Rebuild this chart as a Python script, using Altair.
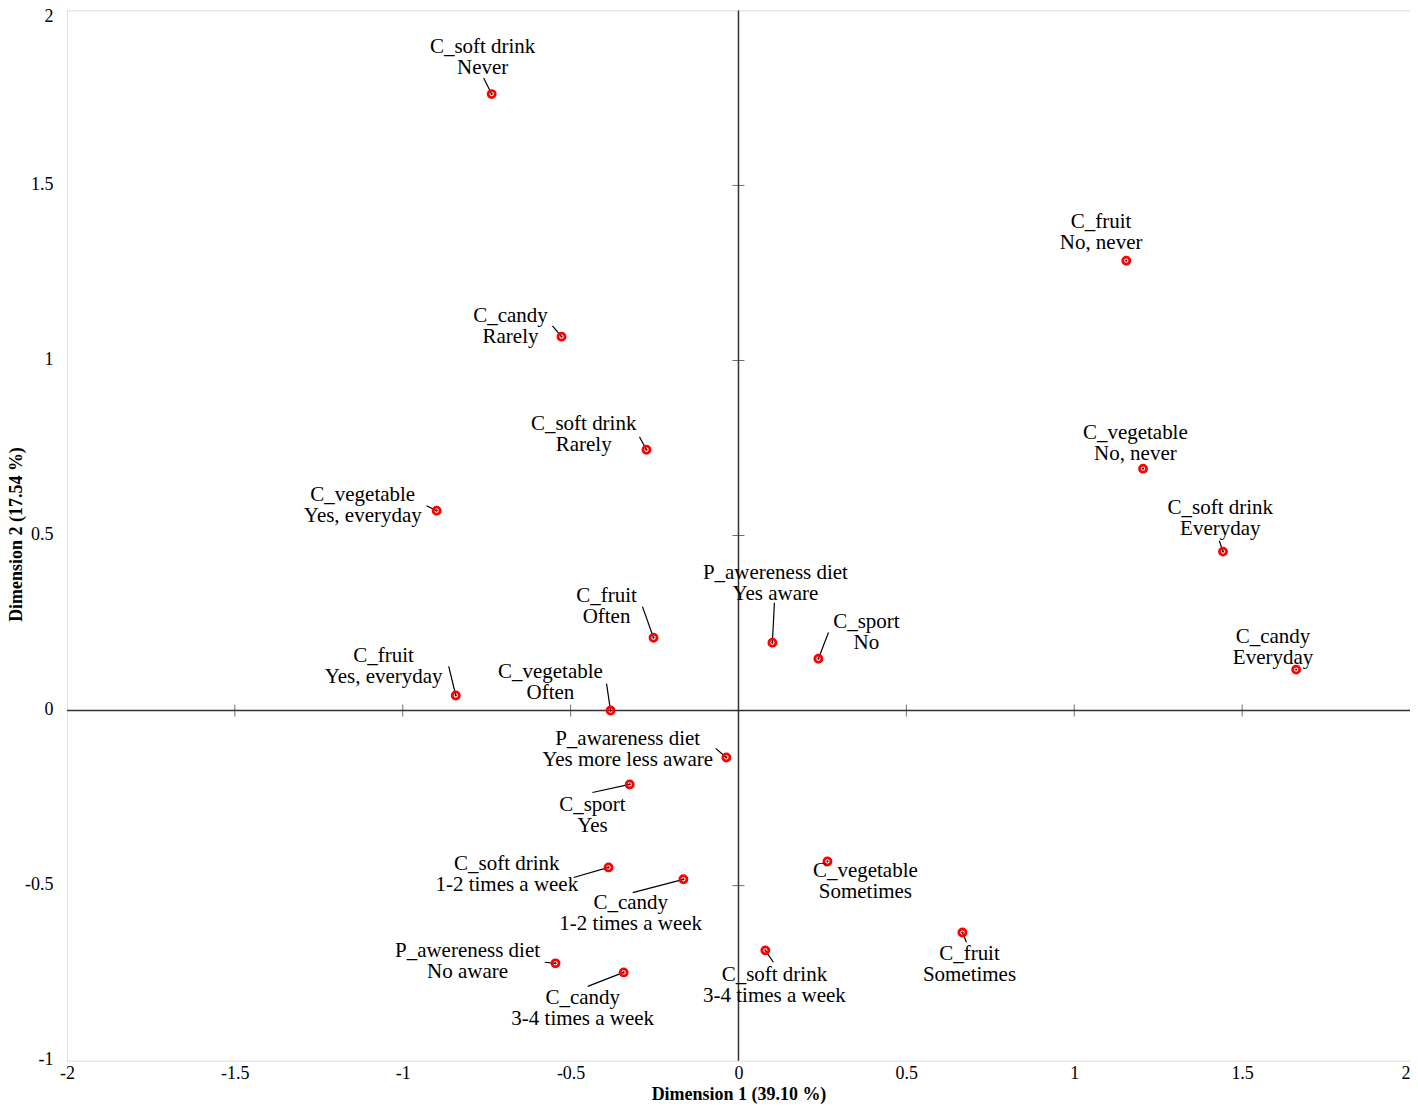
import altair as alt
import pandas as pd

variables = ["C_soft drink", "C_fruit", "C_candy", "C_soft drink", "C_vegetable",
             "C_vegetable", "C_soft drink", "C_fruit", "P_awereness diet", "C_sport",
             "C_candy", "C_fruit", "C_vegetable", "P_awareness diet", "C_sport",
             "C_vegetable", "C_soft drink", "C_candy", "C_fruit", "C_soft drink",
             "P_awereness diet", "C_candy"]
levels = ["Never", "No, never", "Rarely", "Rarely", "No, never",
          "Yes, everyday", "Everyday", "Often", "Yes aware", "No",
          "Everyday", "Yes, everyday", "Often", "Yes more less aware", "Yes",
          "Sometimes", "1-2 times a week", "1-2 times a week", "Sometimes", "3-4 times a week",
          "No aware", "3-4 times a week"]
dim1 = [-0.735, 1.155, -0.527, -0.274, 1.205, -0.899, 1.443, -0.253, 0.101, 0.238,
        1.661, -0.842, -0.381, -0.036, -0.324, 0.265, -0.387, -0.164, 0.667, 0.080,
        -0.545, -0.342]
dim2 = [1.761, 1.285, 1.068, 0.745, 0.691, 0.571, 0.454, 0.208, 0.194, 0.148,
        0.117, 0.043, 0.000, -0.134, -0.211, -0.431, -0.448, -0.482, -0.634, -0.685,
        -0.722, -0.748]
label_x = [-0.762, 1.080, -0.679, -0.461, 1.182, -1.119, 1.435, -0.393, 0.110, 0.381,
           1.592, -1.057, -0.560, -0.330, -0.435, 0.378, -0.690, -0.321, 0.688, 0.107,
           -0.807, -0.464]
label_y = [1.865, 1.366, 1.098, 0.789, 0.764, 0.587, 0.549, 0.298, 0.364, 0.224,
           0.181, 0.127, 0.081, -0.110, -0.301, -0.487, -0.467, -0.581, -0.726, -0.786,
           -0.718, -0.852]
leader_x = [-0.759, None, -0.554, -0.295, None, -0.929, 1.432, -0.286, 0.107, 0.268,
            None, -0.863, -0.393, -0.068, -0.435, None, -0.491, -0.315, 0.679, 0.104,
            -0.577, -0.449]
leader_y = [1.807, None, 1.099, 0.782, None, 0.585, 0.485, 0.297, 0.308, 0.223,
            None, 0.126, 0.077, -0.108, -0.234, None, -0.477, -0.520, -0.662, -0.719,
            -0.719, -0.788]
tick_values_x = [-2, -1.5, -1, -0.5, 0, 0.5, 1, 1.5, 2]
tick_values_y = [-1, -0.5, 0, 0.5, 1, 1.5, 2]

FONT = "Liberation Serif"

df = pd.DataFrame({
    "var": variables, "level": levels, "d1": dim1, "d2": dim2,
    "lx": label_x, "ly": label_y, "ex": leader_x, "ey": leader_y,
})
df["label"] = df["var"] + "\n" + df["level"]
leaders = df.dropna(subset=["ex"])

xscale = alt.Scale(domain=[-2, 2], nice=False, zero=False)
yscale = alt.Scale(domain=[-1, 2], nice=False, zero=False)

xaxis = alt.Axis(values=tick_values_x, title="Dimension 1 (39.10 %)", grid=False,
                 domain=False, ticks=False, labelPadding=4, labelFontSize=18,
                 labelFont=FONT, labelColor="#000", titleFont=FONT, titleFontSize=18,
                 titleFontWeight="bold", titleColor="#000",
                 titleX=672, titleY=39, titleAlign="center", titleBaseline="alphabetic",
                 labelAlign={"condition": {"test": "datum.value == 2", "value": "right"}, "value": "center"},
                 labelExpr="toString(datum.value)", labelFlush=False)
yaxis = alt.Axis(values=tick_values_y, title="Dimension 2 (17.54 %)", grid=False,
                 domain=False, ticks=False, labelPadding=14, labelFontSize=18,
                 labelFont=FONT, labelColor="#000", titleFont=FONT, titleFontSize=18,
                 titleFontWeight="bold", titleColor="#000",
                 titleX=-50, titleY=524, titleAngle=270, titleAlign="center",
                 titleBaseline="middle",
                 labelOffset={"condition": {"test": "datum.value == 2", "value": 6}, "value": -1},
                 labelExpr="toString(datum.value)", labelFlush=False)

base = alt.Chart(df)

zx = alt.Chart(pd.DataFrame({"v": [0]})).mark_rule(color="#333", strokeWidth=1.5).encode(
    x=alt.X("v:Q", scale=xscale, axis=xaxis))
zy = alt.Chart(pd.DataFrame({"v": [0]})).mark_rule(color="#333", strokeWidth=1.5).encode(
    y=alt.Y("v:Q", scale=yscale, axis=yaxis))

xt = alt.Chart(pd.DataFrame({"t": tick_values_x[1:-1], "z": [0] * 7})).mark_tick(
    orient="vertical", size=12, thickness=1, color="#333").encode(
    x=alt.X("t:Q", scale=xscale), y=alt.Y("z:Q", scale=yscale))
yt = alt.Chart(pd.DataFrame({"t": tick_values_y[1:-1], "z": [0] * 5})).mark_tick(
    orient="horizontal", size=12, thickness=1, color="#333").encode(
    y=alt.Y("t:Q", scale=yscale), x=alt.X("z:Q", scale=xscale))

lines = alt.Chart(leaders).mark_rule(color="#000", strokeWidth=1.2).encode(
    x=alt.X("d1:Q", scale=xscale), y=alt.Y("d2:Q", scale=yscale),
    x2="ex:Q", y2="ey:Q")

pts = base.mark_point(filled=False, color="#ff0000", strokeWidth=2.8, size=50, opacity=1).encode(
    x=alt.X("d1:Q", scale=xscale), y=alt.Y("d2:Q", scale=yscale))
dots = base.mark_circle(color="#550000", size=5, opacity=1).encode(
    x=alt.X("d1:Q", scale=xscale), y=alt.Y("d2:Q", scale=yscale))

texts = base.mark_text(font=FONT, fontSize=21, lineBreak="\n", lineHeight=21,
                       align="center", baseline="middle", dy=-10.5, color="#000").encode(
    x=alt.X("lx:Q", scale=xscale), y=alt.Y("ly:Q", scale=yscale), text="label:N")

chart = alt.layer(zx, zy, xt, yt, lines, pts, dots, texts).properties(
    width=1344, height=1051,
    autosize=alt.AutoSizeParams(type="none"),
    padding={"left": 59, "top": 2, "right": 0, "bottom": 44},
).configure_view(stroke="#9a9a9a", strokeWidth=1.5).configure(background="white")

chart.save("out.html", embed_options={"renderer": "svg", "actions": False})
